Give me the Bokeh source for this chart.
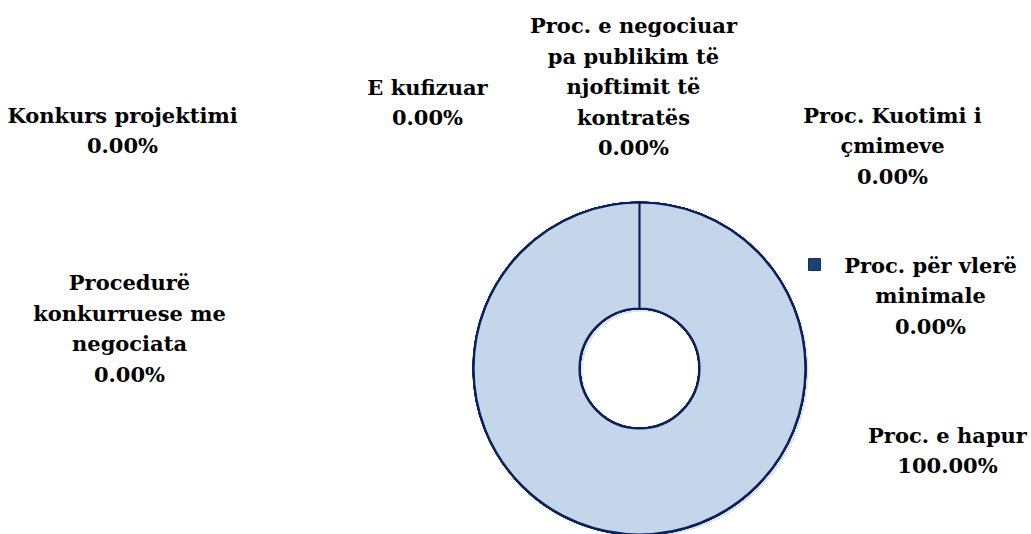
import math
from bokeh.plotting import figure
from bokeh.models import Range1d, ColumnDataSource
from bokeh.core.properties import value
from bokeh.embed import file_html
from bokeh.resources import INLINE

# ---- data ----
categories = [
    "Proc. e hapur",
    "Proc. për vlerë minimale",
    "Proc. Kuotimi i çmimeve",
    "Proc. e negociuar pa publikim të njoftimit të kontratës",
    "E kufizuar",
    "Konkurs projektimi",
    "Procedurë konkurruese me negociata",
]
values = [100.0, 0.0, 0.0, 0.0, 0.0, 0.0, 0.0]
label_lines = [
    "Proc. e hapur",
    "Proc. për vlerë\nminimale",
    "Proc. Kuotimi i\nçmimeve",
    "Proc. e negociuar\npa publikim të\nnjoftimit të\nkontratës",
    "E kufizuar",
    "Konkurs projektimi",
    "Procedurë\nkonkurruese me\nnegociata",
]

# ---- layout (screen pixels, image coords) ----
W, H = 1031, 534
label_pos = [
    (947, 450),
    (930, 295),
    (892, 145),
    (633, 86),
    (427, 102),
    (122, 130),
    (129, 328),
]
CX, CY = 639, 368
R_OUT, R_IN = 166, 60
FILL = "#C5D6EB"
EDGE = "#0A215C"
FONT = "DejaVu Serif"


def px(x):
    return x


def py(y):
    return H - y


p = figure(width=W, height=H, output_backend="svg", toolbar_location=None,
           x_range=Range1d(0, W), y_range=Range1d(0, H), min_border=0)
p.axis.visible = False
p.grid.visible = False
p.outline_line_color = None
p.background_fill_color = "white"
p.border_fill_color = "white"

# shadow
p.annulus(x=[px(CX) + 3], y=[py(CY) - 3], inner_radius=R_IN, outer_radius=R_OUT,
          inner_radius_units="screen", outer_radius_units="screen",
          fill_color="#808080", fill_alpha=0.22, line_color=None)

# wedges
total = sum(values)
starts, ends = [], []
cum = 0.0
for v in values:
    a0 = math.pi / 2 - 2 * math.pi * cum / total
    cum += v
    a1 = math.pi / 2 - 2 * math.pi * cum / total
    starts.append(a1)
    ends.append(a0)
# avoid an exactly closed full circle
ends = [e if abs(e - s) < 2 * math.pi - 1e-9 else e - 1e-4 for s, e in zip(starts, ends)]
src = ColumnDataSource(dict(x=[px(CX)] * len(values), y=[py(CY)] * len(values),
                            start=starts, end=ends, cat=categories))
p.annular_wedge(x="x", y="y", inner_radius=R_IN, outer_radius=R_OUT,
                inner_radius_units="screen", outer_radius_units="screen",
                start_angle="start", end_angle="end", source=src,
                fill_color=FILL, line_color=EDGE, line_width=2.2)

# labels
texts = [f"{t}\n{v:.2f}%" for t, v in zip(label_lines, values)]
lsrc = ColumnDataSource(dict(x=[px(a) for a, b in label_pos],
                             y=[py(b) for a, b in label_pos], t=texts))
p.text(x="x", y="y", text="t", source=lsrc, text_align="center",
       text_baseline="middle", text_font=value(FONT), text_font_style="bold",
       text_font_size="21px", text_color="#000000", text_line_height=1.22)

# legend marker for "Proc. për vlerë minimale"
p.scatter(x=[px(814)], y=[py(264)], marker="square", size=12,
          fill_color="#1F3F78", line_color="#16305E")

open("out.html", "w").write(file_html(p, INLINE))
